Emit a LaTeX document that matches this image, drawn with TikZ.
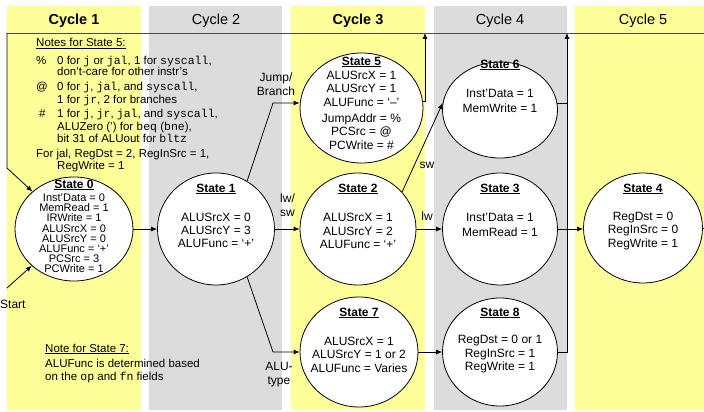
\documentclass[tikz,border=0pt]{standalone}
\usepackage{fontspec}
\setmainfont{Liberation Sans}
\setmonofont{Liberation Mono}
\usetikzlibrary{arrows.meta,shapes.geometric}
\definecolor{bandyellow}{HTML}{FFFF99}
\definecolor{bandgray}{HTML}{DCDCDC}
\begin{document}
\begin{tikzpicture}[x=1pt,y=-1pt,
  state/.style={draw, ellipse, fill=white, line width=0.8pt, inner sep=0pt},
  conn/.style={line width=0.8pt, -{Latex[length=6pt,width=5pt]}},
  plain/.style={line width=0.8pt},
  stitle/.style={font=\fontsize{12}{13}\selectfont\bfseries, inner sep=0pt},
  sbody/.style={font=\fontsize{12}{13.5}\selectfont, align=center, inner sep=0pt},
  note/.style={font=\fontsize{11.5}{13}\selectfont, anchor=base west, inner sep=0pt},
  lbl/.style={font=\fontsize{12}{14}\selectfont, inner sep=0pt},
  hdr/.style={font=\fontsize{14.5}{16}\selectfont, inner sep=0pt}
]
\useasboundingbox (0,0) rectangle (704,412);

% cycle bands
\fill[bandyellow] (7,6) rectangle (141,410);
\fill[bandgray] (149,6) rectangle (282,410);
\fill[bandyellow] (291,6) rectangle (425,410);
\fill[bandgray] (434,6) rectangle (567,410);
\fill[bandyellow] (575,6) rectangle (704,410);

\node[hdr, font=\fontsize{14.5}{16}\selectfont\bfseries] (h1) at (74,21) {Cycle 1};
\node[hdr] (h2) at (216,21) {Cycle 2};
\node[hdr, font=\fontsize{14.5}{16}\selectfont\bfseries] (h3) at (358,21) {Cycle 3};
\node[hdr] (h4) at (500,21) {Cycle 4};
\node[hdr] (h5) at (643,21) {Cycle 5};

% states
\node[state, minimum width=118pt, minimum height=104pt] (s0) at (74,229) {};
\node[state, minimum width=117pt, minimum height=112pt] (s1) at (216,229) {};
\node[state, minimum width=116pt, minimum height=112pt] (s2) at (358,229) {};
\node[state, minimum width=115pt, minimum height=112pt] (s3) at (500,229) {};
\node[state, minimum width=119pt, minimum height=110pt] (s4) at (643,228) {};
\node[state, minimum width=123pt, minimum height=110pt] (s5) at (361.5,108) {};
\node[state, minimum width=115pt, minimum height=96pt] (s6) at (500,110) {};
\node[state, minimum width=118pt, minimum height=110pt] (s7) at (359,352) {};
\node[state, minimum width=115pt, minimum height=108pt] (s8) at (500,352) {};

% return paths along the top
\coordinate (tR) at (707,33);
\coordinate (tL) at (7,33);
\coordinate (t5) at (425,33);
\coordinate (t8) at (567,33);
\coordinate (bendL) at (7,168);
\draw[plain, black!70] (tR) -- (tL);
\draw[conn] (tL) -- (bendL) -- (s0.138);
\draw[conn] (s5.6) -| (t5);
\draw[conn] (s8.east) -| (t8);
\draw[plain] (s6.7) -- (s6.7 -| t8);
\draw[plain] (s4.east) -| (tR);

% forward transitions
\coordinate (st) at (7,288);
\draw[conn] (st) -- (s0.221);
\draw[conn] (s0.east) -- (s1.west);
\coordinate (jb) at (273,103);
\draw[conn] (s1.57) -- (jb) -- (s5.west |- jb);
\draw[conn] (s1.west -| s1.east) -- (s2.west);
\coordinate (at) at (273,352);
\draw[conn] (s1.-57) -- (at) -- (s7.west);
\draw[conn] (s2.40) -- (s6.173);
\draw[conn] (s2.east) -- (s3.west);
\draw[conn] (s3.east) -- (s4.west |- s3.east);
\draw[conn] (s7.east) -- (s8.west);

% state texts
\node[stitle] (s0t) at (74,185) {\underline{State 0}};
\node[sbody, font=\fontsize{11}{10.2}\selectfont] (s0b) at (74,233.5)
  {Inst'Data = 0\\MemRead = 1\\IRWrite = 1\\ALUSrcX = 0\\ALUSrcY = 0\\ALUFunc = ‘+’\\PCSrc = 3\\PCWrite = 1};
\node[stitle] (s1t) at (216,189) {\underline{State 1}};
\node[sbody, font=\fontsize{12}{13}\selectfont] (s1b) at (216,230.5)
  {ALUSrcX = 0\\ALUSrcY = 3\\ALUFunc = ‘+’};
\node[stitle] (s2t) at (358,189) {\underline{State 2}};
\node[sbody] (s2b) at (358,231)
  {ALUSrcX = 1\\ALUSrcY = 2\\ALUFunc = ‘+’};
\node[stitle] (s3t) at (500,189) {\underline{State 3}};
\node[sbody, font=\fontsize{12}{15}\selectfont] (s3b) at (500,225)
  {Inst'Data = 1\\MemRead = 1};
\node[stitle] (s4t) at (643,189) {\underline{State 4}};
\node[sbody] (s4b) at (643,231)
  {RegDst = 0\\RegInSrc = 0\\RegWrite = 1};
\node[stitle] (s5t) at (361.5,62) {\underline{State 5}};
\node[sbody] (s5b) at (361.5,110)
  {ALUSrcX = 1\\ALUSrcY = 1\\ALUFunc = ‘–’\\[2.5pt]JumpAddr = \%\\PCSrc = @\\PCWrite = \#};
\node[stitle] (s6t) at (500,65) {\underline{State 6}};
\node[sbody, font=\fontsize{12}{15}\selectfont] (s6b) at (500,101)
  {Inst'Data = 1\\MemWrite = 1};
\node[stitle] (s7t) at (359,313) {\underline{State 7}};
\node[sbody] (s7b) at (359,354.5)
  {ALUSrcX = 1\\ALUSrcY = 1 or 2\\ALUFunc = Varies};
\node[stitle] (s8t) at (500,313) {\underline{State 8}};
\node[sbody] (s8b) at (500,354.5)
  {RegDst = 0 or 1\\RegInSrc = 1\\RegWrite = 1};

% transition labels
\node[lbl, align=center] (ljb) at (276,84.5) {Jump/\\Branch};
\node[lbl, align=left, anchor=west] (llwsw) at (280,205) {lw/\\sw};
\node[lbl] (lsw) at (427,165) {sw};
\node[lbl] (llw) at (427,216) {lw};
\node[lbl, align=center] (lalu) at (279,374.5) {ALU-\\type};
\node[lbl, anchor=west] (lst) at (0,304) {Start};

% notes for state 5
\node[note] (n1) at (36,47) {\underline{Notes for State 5:}};
\node[note] (n2) at (36,64) {\%};
\node[note] (n3) at (57,64) {0 for \texttt{j} or \texttt{jal}, 1 for \texttt{syscall},};
\node[note] (n4) at (57,76) {don't-care for other instr's};
\node[note] (n5) at (36,91) {@};
\node[note] (n6) at (57,91) {0 for \texttt{j}, \texttt{jal}, and \texttt{syscall},};
\node[note] (n7) at (57,103) {1 for \texttt{jr}, 2 for branches};
\node[note] (n8) at (39,117) {\#};
\node[note] (n9) at (57,117) {1 for \texttt{j}, \texttt{jr}, \texttt{jal}, and \texttt{syscall},};
\node[note] (n10) at (57,130) {ALUZero (') for \texttt{beq} (\texttt{bne}),};
\node[note] (n11) at (57,142) {bit 31 of ALUout for \texttt{bltz}};
\node[note] (n12) at (36,157) {For jal, RegDst = 2, RegInSrc = 1,};
\node[note] (n13) at (57,169) {RegWrite = 1};

% note for state 7
\node[note] (m1) at (45,352) {\underline{Note for State 7:}};
\node[note] (m2) at (45,367) {ALUFunc is determined based};
\node[note] (m3) at (45,380) {on the \texttt{op} and \texttt{fn} fields};
\end{tikzpicture}
\end{document}
